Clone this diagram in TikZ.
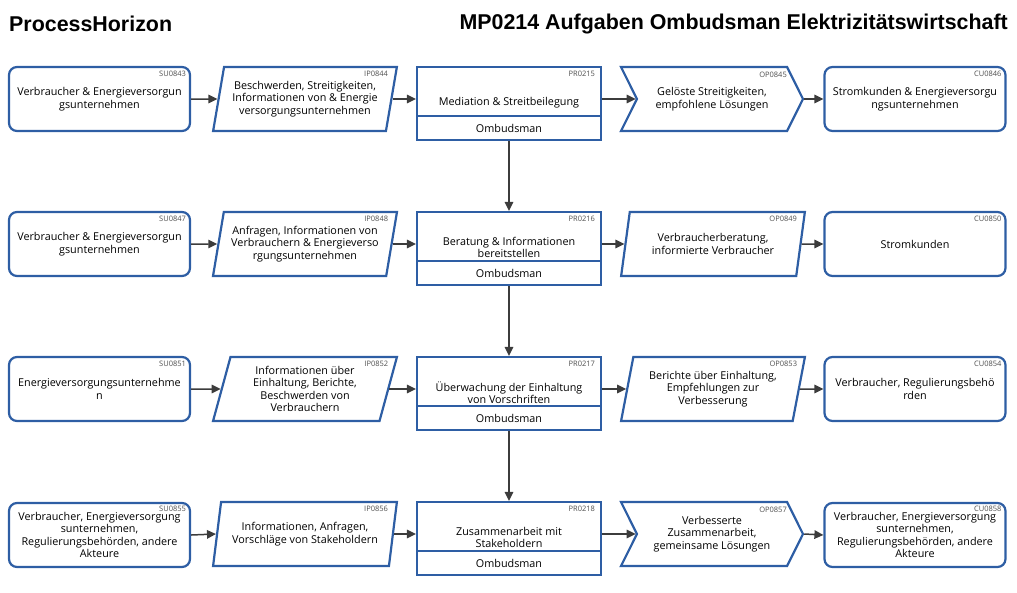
\documentclass[tikz,border=0pt]{standalone}
\usepackage{fontspec}
\setmainfont{Open Sans}
\newfontfamily\titlefont{Liberation Sans}
\usetikzlibrary{shapes.geometric,shapes.symbols,arrows.meta}

\definecolor{boxblue}{RGB}{46,94,164}
\definecolor{flowgray}{RGB}{60,60,60}
\definecolor{codegray}{RGB}{80,80,80}

\begin{document}
\begin{tikzpicture}[x=1pt,y=-1pt,
    box/.style={draw=boxblue, line width=2.2pt, fill=white, align=center,
        font=\fontsize{10.8}{12.5}\selectfont},
    actor/.style={box, rounded corners=8pt, minimum width=181pt, minimum height=64pt, inner sep=1pt},
    datain/.style={box, trapezium, trapezium left angle=77, trapezium right angle=103,
        trapezium stretches=true, minimum width=184pt, minimum height=64pt, inner xsep=0pt},
    chevron/.style={box, signal, signal from=west, signal to=east, signal pointer angle=127,
        minimum width=182pt, minimum height=64pt, inner xsep=0pt},
    proc/.style={box, rectangle, minimum width=184pt, minimum height=49pt},
    role/.style={box, rectangle, minimum width=184pt, minimum height=24pt, inner sep=0pt},
    ptext/.style={align=center, font=\fontsize{10.8}{12.5}\selectfont, inner sep=0pt},
    code/.style={font=\fontsize{7.5}{8}\selectfont, text=codegray, inner sep=0pt, anchor=north east},
    flow/.style={draw=flowgray, line width=1.5pt, -{Triangle[length=9pt,width=8.5pt]}}
]
    \useasboundingbox (0,0) rectangle (1017,592);

    % Titles
    \node[anchor=west, inner sep=0pt, font=\titlefont\bfseries\fontsize{21.4}{24}\selectfont] (brand) at (9,24) {ProcessHorizon};
    \node[anchor=east, inner sep=0pt, font=\titlefont\bfseries\fontsize{21.4}{24}\selectfont] (mptitle) at (1008,24) {MP0214 Aufgaben Ombudsman Elektrizitätswirtschaft};

    % Row 1
    \node[actor] (su1) at (99.5,99) {Verbraucher \& Energieversorgun\\gsunternehmen};
    \node[datain] (ip1) at (305,99) {Beschwerden, Streitigkeiten,\\Informationen von \& Energie\\versorgungsunternehmen};
    \node[proc] (pr1) at (509,91.5) {};
    \node[role] (ro1) at (509,128) {Ombudsman};
    \node[ptext] (pr1t) at ([yshift=-11pt]pr1.center) {Mediation \& Streitbeilegung};
    \node[chevron] (op1) at (712,99) {Gelöste Streitigkeiten,\\empfohlene Lösungen};
    \node[actor] (cu1) at (915,99) {Stromkunden \& Energieversorgu\\ngsunternehmen};

    \node[code] (su1c) at ([xshift=-5pt,yshift=-5pt]su1.north east) {SU0843};
    \node[code] (ip1c) at ([xshift=-10pt,yshift=-5pt]ip1.top right corner) {IP0844};
    \node[code] (pr1c) at ([xshift=-7pt,yshift=-5pt]pr1.north east) {PR0215};
    \node[code] (op1c) at ([xshift=75pt,yshift=27pt]op1.center) {OP0845};
    \node[code] (cu1c) at ([xshift=-5pt,yshift=-5pt]cu1.north east) {CU0846};

    % Row 2
    \node[actor] (su2) at (99.5,244) {Verbraucher \& Energieversorgun\\gsunternehmen};
    \node[datain] (ip2) at (305,244) {Anfragen, Informationen von\\Verbrauchern \& Energieverso\\rgungsunternehmen};
    \node[proc] (pr2) at (509,236.5) {};
    \node[role] (ro2) at (509,273) {Ombudsman};
    \node[ptext] (pr2t) at ([yshift=-11pt]pr2.center) {Beratung \& Informationen\\bereitstellen};
    \node[datain] (op2) at (713,244) {Verbraucherberatung,\\informierte Verbraucher};
    \node[actor] (cu2) at (915,244) {Stromkunden};

    \node[code] (su2c) at ([xshift=-5pt,yshift=-5pt]su2.north east) {SU0847};
    \node[code] (ip2c) at ([xshift=-10pt,yshift=-5pt]ip2.top right corner) {IP0848};
    \node[code] (pr2c) at ([xshift=-7pt,yshift=-5pt]pr2.north east) {PR0216};
    \node[code] (op2c) at ([xshift=-9pt,yshift=-5pt]op2.top right corner) {OP0849};
    \node[code] (cu2c) at ([xshift=-5pt,yshift=-5pt]cu2.north east) {CU0850};

    % Row 3
    \node[actor] (su3) at (99.5,389) {Energieversorgungsunternehme\\n};
    \node[datain] (ip3) at (305,389) {Informationen über\\Einhaltung, Berichte,\\Beschwerden von\\Verbrauchern};
    \node[proc] (pr3) at (509,381.5) {};
    \node[role] (ro3) at (509,418) {Ombudsman};
    \node[ptext] (pr3t) at ([yshift=-11pt]pr3.center) {Überwachung der Einhaltung\\von Vorschriften};
    \node[datain] (op3) at (713,389) {Berichte über Einhaltung,\\Empfehlungen zur\\Verbesserung};
    \node[actor] (cu3) at (915,389) {Verbraucher, Regulierungsbehö\\rden};

    \node[code] (su3c) at ([xshift=-5pt,yshift=-5pt]su3.north east) {SU0851};
    \node[code] (ip3c) at ([xshift=-10pt,yshift=-5pt]ip3.top right corner) {IP0852};
    \node[code] (pr3c) at ([xshift=-7pt,yshift=-5pt]pr3.north east) {PR0217};
    \node[code] (op3c) at ([xshift=-9pt,yshift=-5pt]op3.top right corner) {OP0853};
    \node[code] (cu3c) at ([xshift=-5pt,yshift=-5pt]cu3.north east) {CU0854};

    % Row 4
    \node[actor] (su4) at (99.5,535) {Verbraucher, Energieversorgung\\sunternehmen,\\Regulierungsbehörden, andere\\Akteure};
    \node[datain] (ip4) at (305,534) {Informationen, Anfragen,\\Vorschläge von Stakeholdern};
    \node[proc] (pr4) at (509,526.5) {};
    \node[role] (ro4) at (509,563) {Ombudsman};
    \node[ptext] (pr4t) at ([yshift=-11pt]pr4.center) {Zusammenarbeit mit\\Stakeholdern};
    \node[chevron] (op4) at (712,534) {Verbesserte\\Zusammenarbeit,\\gemeinsame Lösungen};
    \node[actor] (cu4) at (915,535) {Verbraucher, Energieversorgung\\sunternehmen,\\Regulierungsbehörden, andere\\Akteure};

    \node[code] (su4c) at ([xshift=-5pt,yshift=-4pt]su4.north east) {SU0855};
    \node[code] (ip4c) at ([xshift=-10pt,yshift=-5pt]ip4.top right corner) {IP0856};
    \node[code] (pr4c) at ([xshift=-7pt,yshift=-5pt]pr4.north east) {PR0218};
    \node[code] (op4c) at ([xshift=75pt,yshift=27pt]op4.center) {OP0857};
    \node[code] (cu4c) at ([xshift=-5pt,yshift=-4pt]cu4.north east) {CU0858};

    % Flows along each row
    \draw[flow] (su1.east) -- (ip1.west);
    \draw[flow] (ip1.east) -- (ip1.east -| pr1.west);
    \draw[flow] (op1.west -| pr1.east) -- (op1.west);
    \draw[flow] (op1.east) -- (cu1.west);

    \draw[flow] (su2.east) -- (ip2.west);
    \draw[flow] (ip2.east) -- (ip2.east -| pr2.west);
    \draw[flow] (op2.west -| pr2.east) -- (op2.west);
    \draw[flow] (op2.east) -- (cu2.west);

    \draw[flow] (su3.east) -- (ip3.west);
    \draw[flow] (ip3.east) -- (ip3.east -| pr3.west);
    \draw[flow] (op3.west -| pr3.east) -- (op3.west);
    \draw[flow] (op3.east) -- (cu3.west);

    \draw[flow] (su4.east) -- (ip4.west);
    \draw[flow] (ip4.east) -- (ip4.east -| pr4.west);
    \draw[flow] (op4.west -| pr4.east) -- (op4.west);
    \draw[flow] (op4.east) -- (cu4.west);

    % Flows between processes
    \draw[flow] (ro1.south) -- (pr2.north);
    \draw[flow] (ro2.south) -- (pr3.north);
    \draw[flow] (ro3.south) -- (pr4.north);
\end{tikzpicture}
\end{document}
